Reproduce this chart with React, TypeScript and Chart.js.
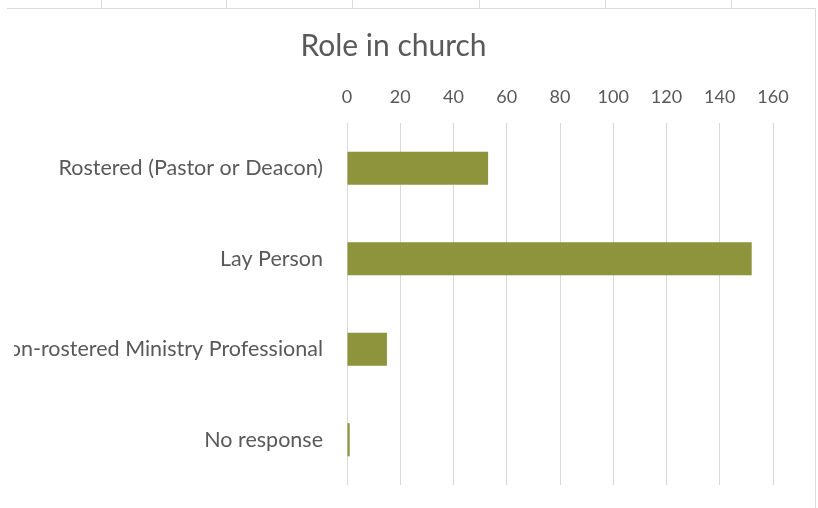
import React, { useEffect, useRef } from "react";
import { Chart, registerables } from "chart.js";

Chart.register(...registerables);

const categories = [
  "Rostered (Pastor or Deacon)",
  "Lay Person",
  "Non-rostered Ministry Professional",
  "No response",
];
const counts = [53, 152, 15, 1];
const axisMin = 0;
const axisMax = 160;
const axisStep = 20;
const chartTitle = "Role in church";

const FONT = "Lato, 'Open Sans', sans-serif";
const TEXT = "#595959";
const GRID = "#d9d9d9";
const BAR = "#8E943C";

export default function App() {
  const ref = useRef<HTMLCanvasElement | null>(null);

  useEffect(() => {
    if (!ref.current) return;
    const chart = new Chart(ref.current, {
      type: "bar",
      data: {
        labels: categories,
        datasets: [
          {
            data: counts,
            backgroundColor: BAR,
            borderWidth: 0,
            barPercentage: 0.366,
            categoryPercentage: 1,
          },
        ],
      },
      options: {
        indexAxis: "y",
        animation: false,
        responsive: false,
        maintainAspectRatio: false,
        layout: { padding: { left: 14, right: 42, top: 0, bottom: 23 } },
        plugins: {
          legend: { display: false },
          tooltip: { enabled: false },
          title: {
            display: true,
            text: chartTitle,
            color: TEXT,
            font: { family: FONT, size: 30, weight: "normal" },
            padding: { top: 19, bottom: 7 },
          },
        },
        scales: {
          x: {
            position: "top",
            min: axisMin,
            max: axisMax,
            ticks: {
              stepSize: axisStep,
              color: TEXT,
              font: { family: FONT, size: 18 },
              padding: 15.2,
            },
            grid: { color: GRID, lineWidth: 1, drawTicks: false },
            border: { display: false },
          },
          y: {
            afterFit: (scale: any) => {
              scale.width = 333;
              scale.paddingTop = 0;
              scale.paddingBottom = 0;
            },
            ticks: {
              color: TEXT,
              font: { family: FONT, size: 21.5 },
              padding: 24,
            },
            grid: { display: false, drawTicks: false },
            border: { display: false },
          },
        },
      },
    });
    return () => chart.destroy();
  }, []);

  const colLines = [101, 226, 352, 479, 605, 731];

  return (
    <div
      style={{
        position: "fixed",
        left: 0,
        top: 0,
        width: 818,
        height: 508,
        background: "#fff",
        overflow: "hidden",
      }}
    >
      {colLines.map((x) => (
        <div
          key={x}
          style={{ position: "absolute", left: x, top: 0, width: 1, height: 8, background: "#dcdcdc" }}
        />
      ))}
      <div style={{ position: "absolute", left: 7, top: 8, width: 809, height: 1, background: "#dcdcdc" }} />
      <div style={{ position: "absolute", left: 815, top: 8, width: 1, height: 500, background: "#dcdcdc" }} />
      <canvas
        ref={ref}
        width={815}
        height={499}
        style={{ position: "absolute", left: 0, top: 9, width: 815, height: 499 }}
      />
    </div>
  );
}
